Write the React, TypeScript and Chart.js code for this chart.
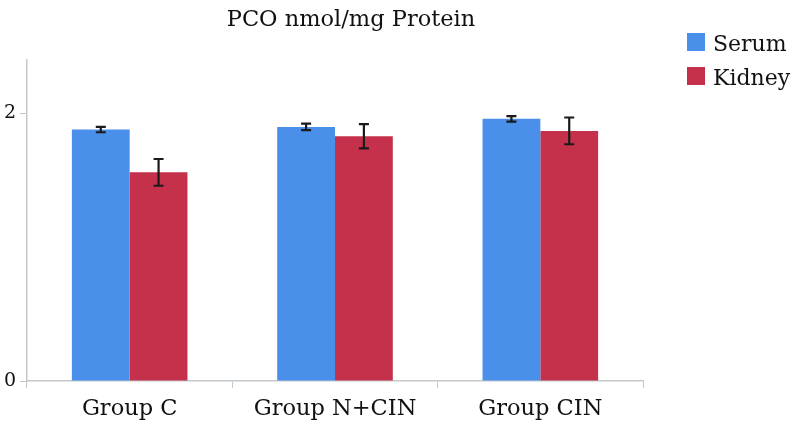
import React, { useEffect, useRef } from "react";
import { Chart, registerables } from "chart.js";

Chart.register(...registerables);

const categories = ["Group C", "Group N+CIN", "Group CIN"];
const serumValues = [1.88, 1.9, 1.96];
const serumErrors = [0.02, 0.025, 0.02];
const kidneyValues = [1.56, 1.83, 1.87];
const kidneyErrors = [0.1, 0.09, 0.1];
const seriesNames = ["Serum", "Kidney"];
const yTicks = [0, 2];
const titleText = "PCO nmol/mg Protein";

const BLUE = "#4a8fea";
const RED = "#c5304b";
const AXIS = "#c3c9cd";
const FONT = "'DejaVu Serif'";

export default function App() {
  const ref = useRef<HTMLCanvasElement | null>(null);

  useEffect(() => {
    document.body.style.margin = "0";
    const canvas = ref.current;
    if (!canvas) return;
    const errors = [serumErrors, kidneyErrors];

    const errorBars = {
      id: "errorBars",
      afterDatasetsDraw(chart: any) {
        const ctx = chart.ctx;
        const ys = chart.scales.y;
        ctx.save();
        ctx.strokeStyle = "#1a1a1a";
        ctx.lineWidth = 2.2;
        chart.data.datasets.forEach((ds: any, di: number) => {
          const meta = chart.getDatasetMeta(di);
          meta.data.forEach((bar: any, i: number) => {
            const v = ds.data[i];
            const e = errors[di][i];
            const x = bar.x;
            const y1 = ys.getPixelForValue(v + e);
            const y2 = ys.getPixelForValue(v - e);
            ctx.beginPath();
            ctx.moveTo(x, y1);
            ctx.lineTo(x, y2);
            ctx.moveTo(x - 5, y1);
            ctx.lineTo(x + 5, y1);
            ctx.moveTo(x - 5, y2);
            ctx.lineTo(x + 5, y2);
            ctx.stroke();
          });
        });
        ctx.restore();
      },
    };

    const decorations = {
      id: "decorations",
      afterDraw(chart: any) {
        const ctx = chart.ctx;
        const area = chart.chartArea;
        ctx.save();
        ctx.fillStyle = "#111";
        ctx.font = `22.5px ${FONT}`;
        ctx.textAlign = "center";
        ctx.textBaseline = "alphabetic";
        ctx.fillText(titleText, (area.left + area.right) / 2 + 16, 26);
        const colors = [BLUE, RED];
        const rowsY = [51, 85];
        ctx.textAlign = "left";
        ctx.font = `22px ${FONT}`;
        seriesNames.forEach((name, i) => {
          ctx.fillStyle = colors[i];
          ctx.fillRect(687, rowsY[i] - 18, 18, 18);
          ctx.fillStyle = "#111";
          ctx.fillText(name, 713, rowsY[i]);
        });
        ctx.restore();
      },
    };

    const chart = new Chart(canvas, {
      type: "bar",
      data: {
        labels: categories,
        datasets: [
          { label: seriesNames[0], data: serumValues, backgroundColor: BLUE },
          { label: seriesNames[1], data: kidneyValues, backgroundColor: RED },
        ],
      },
      options: {
        animation: false,
        responsive: false,
        maintainAspectRatio: false,
        layout: { padding: { top: 60, right: 151, left: 0, bottom: 0 } },
        plugins: {
          legend: { display: false },
          title: { display: false },
          tooltip: { enabled: false },
        },
        datasets: {
          bar: { categoryPercentage: 0.563, barPercentage: 1 },
        },
        scales: {
          x: {
            afterFit(scale: any) {
              scale.height = 56;
            },
            grid: {
              offset: true,
              drawOnChartArea: false,
              tickLength: 7,
              color: AXIS,
            },
            border: { display: true, color: AXIS, width: 1.5 },
            ticks: {
              color: "#111",
              font: { family: FONT, size: 22.5 },
              padding: 8,
            },
          },
          y: {
            min: 0,
            max: 2.4,
            afterFit(scale: any) {
              scale.width = 27;
            },
            afterBuildTicks(scale: any) {
              scale.ticks = yTicks.map((v) => ({ value: v }));
            },
            grid: {
              drawOnChartArea: false,
              tickLength: 7,
              color: AXIS,
            },
            border: { display: true, color: AXIS, width: 1.5 },
            ticks: {
              color: "#111",
              font: { family: FONT, size: 19 },
              padding: 4,
            },
          },
        },
      },
      plugins: [errorBars, decorations],
    });
    return () => chart.destroy();
  }, []);

  return (
    <div style={{ width: 794, height: 437 }}>
      <canvas ref={ref} width={794} height={437} style={{ display: "block" }} />
    </div>
  );
}
